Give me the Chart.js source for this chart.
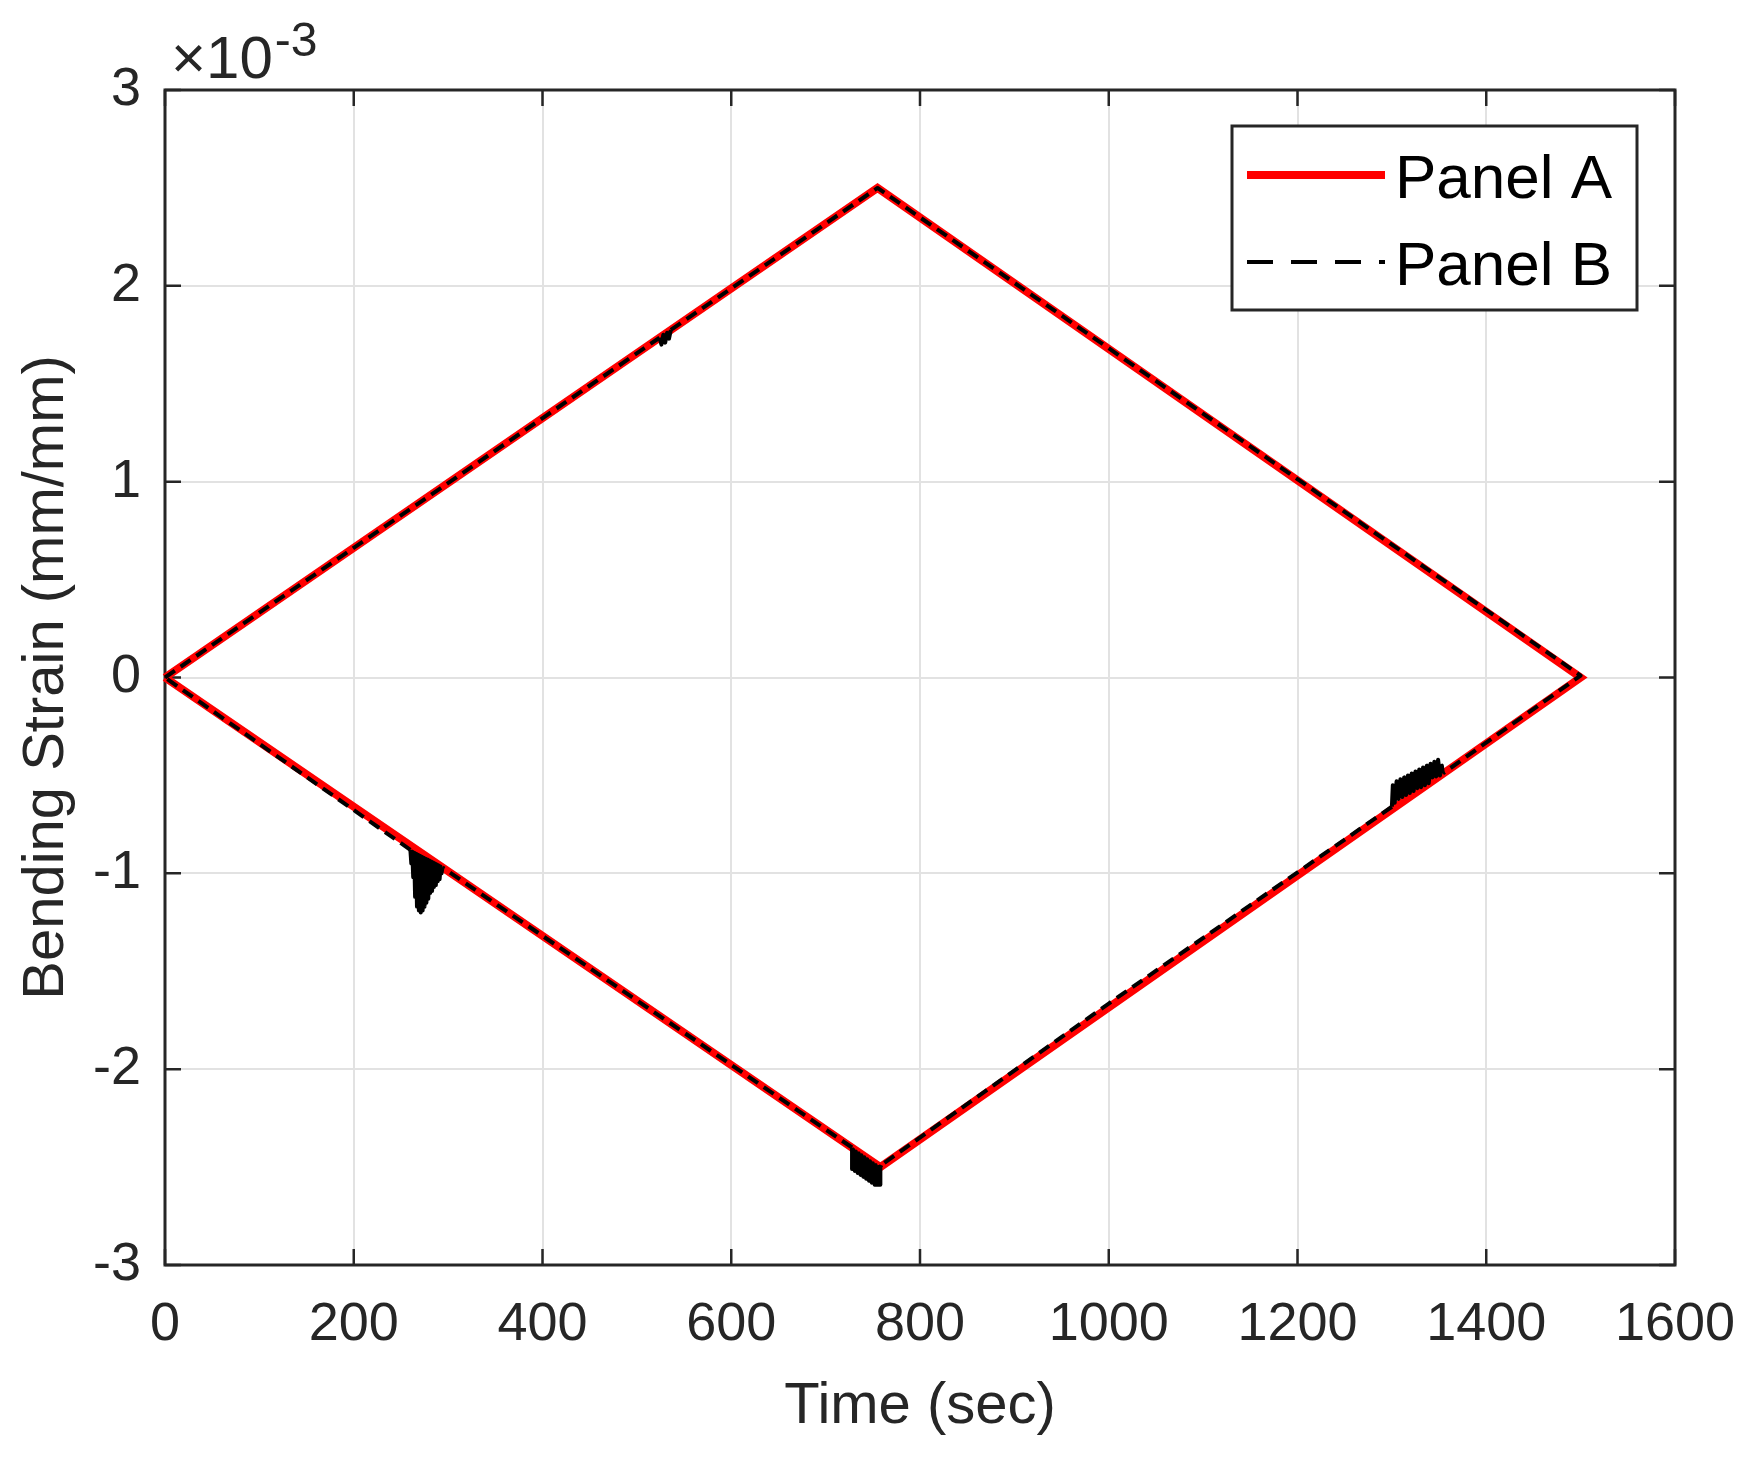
<!DOCTYPE html>
<html>
<head>
<meta charset="utf-8">
<script src="https://cdn.jsdelivr.net/npm/chart.js@4.4.0/dist/chart.umd.min.js"></script>
<style>
html,body{margin:0;padding:0;background:#ffffff;}
#wrap{width:1744px;height:1460px;}
</style>
</head>
<body>
<div id="wrap"><canvas id="c" width="1744" height="1460"></canvas></div>
<script>
// ---- tick values / labels ----
const xTicks = [0, 200, 400, 600, 800, 1000, 1200, 1400, 1600];
const yTicks = [-3, -2, -1, 0, 1, 2, 3];
const yExponent = '-3';
const xTitle = 'Time (sec)';
const yTitle = 'Bending Strain (mm/mm)';
const seriesNames = ['Panel A', 'Panel B'];

// ---- series values (strain in units of 10^-3 mm/mm) ----
const panelATime   = [0, 755, 1500, 758, 0];
const panelAStrain = [0, 2.50, 0, -2.50, 0];

const panelBTime = [
  0, 524, 526, 528, 530, 532, 534, 536, 755, 1500,
  1354, 1353, 1351, 1349, 1347, 1345, 1343, 1341, 1339, 1337, 1335, 1333, 1331, 1329,
  1327, 1325, 1323, 1321, 1319, 1317, 1315, 1313, 1311, 1309, 1307, 1305, 1303, 1301, 1300,
  1000, 759,
  758, 758, 756, 755, 753, 752, 750, 749, 747, 746, 744, 743, 741, 740, 738, 737, 735, 734,
  732, 731, 729, 728, 728,
  294, 293, 292, 291, 290, 289, 288, 287, 286, 285, 284, 283, 282, 281, 280, 279, 278, 277,
  276, 275, 274, 273, 272, 271, 270, 269, 268, 267, 266, 265, 264, 263, 262, 261, 260,
  0];
const panelBStrain = [
  0, 1.735, 1.70, 1.75, 1.71, 1.76, 1.73, 1.775, 2.50, 0.01,
  -0.49, -0.45, -0.50, -0.42, -0.505, -0.43, -0.51, -0.44, -0.54, -0.45, -0.55, -0.46, -0.56, -0.47,
  -0.565, -0.48, -0.58, -0.49, -0.59, -0.50, -0.60, -0.51, -0.61, -0.52, -0.62, -0.53, -0.64, -0.55, -0.66,
  -1.665, -2.49,
  -2.50, -2.59, -2.50, -2.59, -2.49, -2.59, -2.48, -2.58, -2.47, -2.57, -2.46, -2.56, -2.45, -2.55, -2.44, -2.54, -2.43, -2.53,
  -2.42, -2.52, -2.41, -2.51, -2.40,
  -0.97, -1.00, -0.965, -1.03, -0.96, -1.04, -0.955, -1.06, -0.95, -1.07, -0.945, -1.09, -0.94, -1.10, -0.935, -1.13, -0.93, -1.15,
  -0.925, -1.17, -0.92, -1.19, -0.915, -1.20, -0.91, -1.19, -0.905, -1.17, -0.90, -1.12, -0.895, -1.02, -0.89, -0.95, -0.88,
  0];

const FONT = '"Liberation Sans", Arial, Helvetica, sans-serif';
const TXT = '#262626';

const toXY = (xs, ys) => xs.map((v, i) => ({x: v, y: ys[i]}));

const framePlugin = {
  id: 'frame',
  beforeDatasetsDraw(chart) {
    const {ctx, chartArea: a, scales: {x, y}} = chart;
    ctx.save();
    ctx.strokeStyle = TXT;
    ctx.lineWidth = 3;
    ctx.strokeRect(a.left, a.top, a.right - a.left, a.bottom - a.top);
    const tl = 16;
    ctx.lineWidth = 2.5;
    ctx.beginPath();
    xTicks.forEach(v => {
      const px = x.getPixelForValue(v);
      ctx.moveTo(px, a.bottom); ctx.lineTo(px, a.bottom - tl);
      ctx.moveTo(px, a.top); ctx.lineTo(px, a.top + tl);
    });
    yTicks.forEach(v => {
      const py = y.getPixelForValue(v);
      ctx.moveTo(a.left, py); ctx.lineTo(a.left + tl, py);
      ctx.moveTo(a.right, py); ctx.lineTo(a.right - tl, py);
    });
    ctx.stroke();
    ctx.restore();
  },
  afterDraw(chart) {
    const {ctx, chartArea: a} = chart;
    ctx.save();
    // exponent label
    ctx.fillStyle = TXT;
    ctx.textBaseline = 'alphabetic';
    ctx.textAlign = 'left';
    ctx.font = '60px ' + FONT;
    const ex = a.left + 6, ey = a.top - 12;
    ctx.fillText('\u00d710', ex, ey);
    const w = ctx.measureText('\u00d710').width;
    ctx.font = '48px ' + FONT;
    ctx.fillText(yExponent, ex + w + 2, ey - 22);

    // legend
    const lx = a.right - 38 - 405, ly = a.top + 36, lw = 405, lh = 184;
    ctx.fillStyle = '#ffffff';
    ctx.fillRect(lx, ly, lw, lh);
    ctx.strokeStyle = TXT;
    ctx.lineWidth = 3;
    ctx.strokeRect(lx, ly, lw, lh);
    const ds = chart.data.datasets;
    const rows = [ly + 49, ly + 136];
    ds.forEach((d, i) => {
      ctx.save();
      ctx.strokeStyle = d.borderColor;
      ctx.lineWidth = i === 0 ? 8 : 4;
      ctx.setLineDash(i === 0 ? [] : [26, 18]);
      ctx.beginPath();
      ctx.moveTo(lx + 15, rows[i]);
      ctx.lineTo(lx + 153, rows[i]);
      ctx.stroke();
      ctx.restore();
      ctx.fillStyle = '#000000';
      ctx.font = '62px ' + FONT;
      ctx.textBaseline = 'alphabetic';
      ctx.fillText(d.label, lx + 163, rows[i] + 23);
    });
    ctx.restore();
  }
};

new Chart(document.getElementById('c'), {
  type: 'scatter',
  data: {
    datasets: [
      {
        label: seriesNames[0],
        data: toXY(panelATime, panelAStrain),
        showLine: true,
        borderColor: '#ff0000',
        backgroundColor: '#ff0000',
        borderWidth: 8,
        borderJoinStyle: 'miter',
        pointRadius: 0,
        fill: false,
        tension: 0,
        clip: false,
        order: 1
      },
      {
        label: seriesNames[1],
        data: toXY(panelBTime, panelBStrain),
        showLine: true,
        borderColor: '#000000',
        backgroundColor: '#000000',
        borderWidth: 4,
        borderDash: [12, 7],
        borderJoinStyle: 'round',
        segment: {
          borderDash: c => (Math.abs(c.p1.parsed.x - c.p0.parsed.x) < 5 ? [] : undefined)
        },
        pointRadius: 0,
        fill: false,
        tension: 0,
        clip: false,
        order: 0
      }
    ]
  },
  options: {
    responsive: false,
    animation: false,
    devicePixelRatio: 1,
    layout: {padding: {left: 0, right: 69, top: 90, bottom: 0}},
    plugins: {legend: {display: false}, tooltip: {enabled: false}},
    scales: {
      x: {
        type: 'linear', min: 0, max: 1600,
        afterBuildTicks: s => { s.ticks = xTicks.map(v => ({value: v})); },
        afterFit: s => { s.height = 195; s.paddingLeft = 0; s.paddingRight = 0; },
        grid: {color: '#e2e2e2', lineWidth: 2, drawTicks: false},
        border: {display: false},
        ticks: {font: {family: FONT, size: 54}, color: TXT, padding: 28, maxRotation: 0, autoSkip: false,
                callback: v => String(v)},
        title: {display: true, text: xTitle, font: {family: FONT, size: 58}, color: TXT, padding: {top: 0, bottom: 18}}
      },
      y: {
        type: 'linear', min: -3, max: 3,
        afterBuildTicks: s => { s.ticks = yTicks.map(v => ({value: v})); },
        afterFit: s => { s.width = 165; s.paddingTop = 0; s.paddingBottom = 0; },
        grid: {color: '#e2e2e2', lineWidth: 2, drawTicks: false},
        border: {display: false},
        ticks: {font: {family: FONT, size: 54}, color: TXT, padding: 24, autoSkip: false,
                callback: v => String(v)},
        title: {display: true, text: yTitle, font: {family: FONT, size: 58}, color: TXT, padding: {top: 12, bottom: 0}}
      }
    }
  },
  plugins: [framePlugin]
});
</script>
</body>
</html>
